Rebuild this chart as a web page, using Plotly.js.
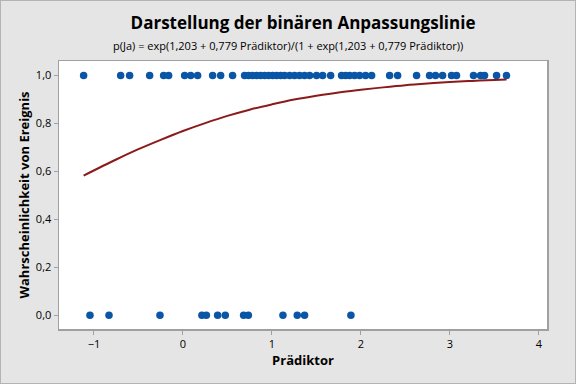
<!DOCTYPE html>
<html>
<head>
<meta charset="utf-8">
<script src="https://cdn.plot.ly/plotly-3.0.1.min.js"></script>
<style>
html,body{margin:0;padding:0;background:#e5e5e5;}
#wrap{position:relative;width:576px;height:384px;}
#chart{width:576px;height:384px;}
#frame{position:absolute;left:0;top:0;width:574px;height:382px;border:1px solid #b4b4b4;pointer-events:none;}
</style>
</head>
<body>
<div id="wrap"><div id="chart"></div><div id="frame"></div></div>
<script>
// Observed events (Ja = 1)
const xEvent = [-1.116, -0.700, -0.599, -0.374, -0.217, -0.161, 0.019, 0.087, 0.165, 0.334, 0.424, 0.558,
  0.693, 0.738, 0.783, 0.828, 0.873, 0.918, 0.963, 1.008, 1.053, 1.098, 1.142, 1.199, 1.255, 1.311, 1.367,
  1.424, 1.502, 1.570, 1.660, 1.783, 1.828, 1.873, 1.929, 1.986, 2.053, 2.121, 2.323, 2.413, 2.626, 2.772,
  2.839, 2.918, 3.019, 3.075, 3.266, 3.345, 3.390, 3.525, 3.637];
// Observed non-events (0)
const xNonEvent = [-1.045, -0.831, -0.258, 0.213, 0.263, 0.390, 0.476, 0.682, 0.735, 1.124, 1.285, 1.367, 1.888];
// Fitted line
const fitX = [-1.116, -0.75, -0.5, -0.25, 0, 0.25, 0.5, 0.75, 1, 1.25, 1.5, 1.75, 2, 2.25, 2.5, 2.75, 3, 3.25, 3.5, 3.637];
const fitY = [0.583, 0.650, 0.693, 0.732, 0.769, 0.802, 0.832, 0.858, 0.880, 0.900, 0.916, 0.930, 0.941, 0.951, 0.960, 0.967, 0.973, 0.978, 0.982, 0.984];
const yTickVals = [0, 0.2, 0.4, 0.6, 0.8, 1.0];
const yTickText = ["0,0", "0,2", "0,4", "0,6", "0,8", "1,0"];
const xTickVals = [-1, 0, 1, 2, 3, 4];

const pts = xEvent.concat(xNonEvent);
const ptsY = xEvent.map(() => 1).concat(xNonEvent.map(() => 0));

const traces = [
  {x: pts, y: ptsY, type: 'scatter', mode: 'markers',
   marker: {color: '#0a55a5', size: 7.5}, hoverinfo: 'x+y'},
  {x: fitX, y: fitY, type: 'scatter', mode: 'lines',
   line: {color: '#8b1a1a', width: 2, shape: 'spline'}}
];

const font = "'Open Sans', 'Noto Sans', sans-serif";
const layout = {
  width: 576, height: 384,
  paper_bgcolor: '#e5e5e5', plot_bgcolor: '#ffffff',
  showlegend: false,
  margin: {l: 59, r: 29, t: 61, b: 55},
  font: {family: font, color: '#000'},
  title: {text: '<b>Darstellung der binären Anpassungslinie</b>', font: {size: 17, family: font, color: '#000'},
          x: 0.5, xref: 'paper', y: 0.94, yref: 'container', yanchor: 'middle'},
  annotations: [{text: 'p(Ja) = exp(1,203 + 0,779 Prädiktor)/(1 + exp(1,203 + 0,779 Prädiktor))',
    xref: 'paper', yref: 'paper', x: (288 - 59) / 488, y: (329 - 46) / 268,
    showarrow: false, font: {size: 11, family: font, color: '#000'}, xanchor: 'center', yanchor: 'middle'}],
  xaxis: {range: [-1.393, 4.092], tickvals: xTickVals, ticks: 'outside', ticklen: 4, tickcolor: '#a0a0a0',
    showline: true, mirror: true, linecolor: '#a0a0a0', linewidth: 1.5, showgrid: false, zeroline: false,
    tickfont: {size: 11}, title: {text: '<b>Prädiktor</b>', font: {size: 13}, standoff: 6}},
  yaxis: {range: [-0.057, 1.061], tickvals: yTickVals, ticktext: yTickText, ticks: 'outside', ticklen: 4, tickcolor: '#a0a0a0',
    showline: true, mirror: true, linecolor: '#a0a0a0', linewidth: 1.5, showgrid: false, zeroline: false,
    tickfont: {size: 11}, title: {text: '<b>Wahrscheinlichkeit von Ereignis</b>', font: {size: 13}, standoff: 3}}
};
Plotly.newPlot('chart', traces, layout, {displayModeBar: false, staticPlot: true});
</script>
</body>
</html>
